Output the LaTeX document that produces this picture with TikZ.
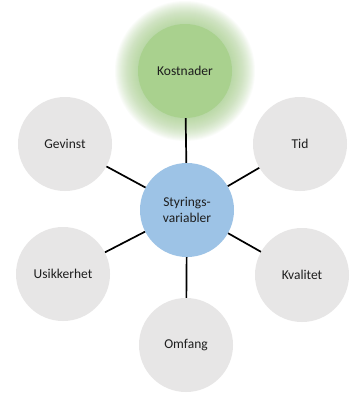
\documentclass[tikz,border=0pt]{standalone}
\usepackage{fontspec}
\setmainfont{Carlito}
\definecolor{greyfill}{RGB}{231,230,230}
\definecolor{greenfill}{RGB}{169,209,142}
\definecolor{bluefill}{RGB}{157,195,230}
\definecolor{txt}{RGB}{30,30,30}
\tikzset{
  bubble/.style={circle, minimum size=94pt, inner sep=0pt, fill=greyfill, text=txt,
    font=\fontsize{13.5}{16}\selectfont, align=center},
  link/.style={line width=1.7pt, black}
}
\begin{document}
\begin{tikzpicture}[x=1pt,y=-1pt]
\useasboundingbox[fill=white] (0,0) rectangle (355,394);
% glow around Kostnader
\foreach \r in {70,69,...,47}{
  \fill[greenfill, opacity=0.05] (185,71) circle[radius=\r];
}
\node[bubble, fill=greenfill] (kost) at (185,71) {Kostnader};
\node[bubble] (gev) at (65,144) {Gevinst};
\node[bubble] (tid) at (300,144) {Tid};
\node[bubble] (usik) at (63,274) {Usikkerhet};
\node[bubble] (kval) at (302,275) {Kvalitet};
\node[bubble] (omf) at (186,345) {Omfang};
\node[bubble, fill=bluefill] (styr) at (187,210) {Styrings-\\variabler};
\draw[link] (styr) -- (kost);
\draw[link] (styr) -- (gev);
\draw[link] (styr) -- (tid);
\draw[link] (styr) -- (usik);
\draw[link] (styr) -- (kval);
\draw[link] (styr) -- (omf);
\end{tikzpicture}
\end{document}
